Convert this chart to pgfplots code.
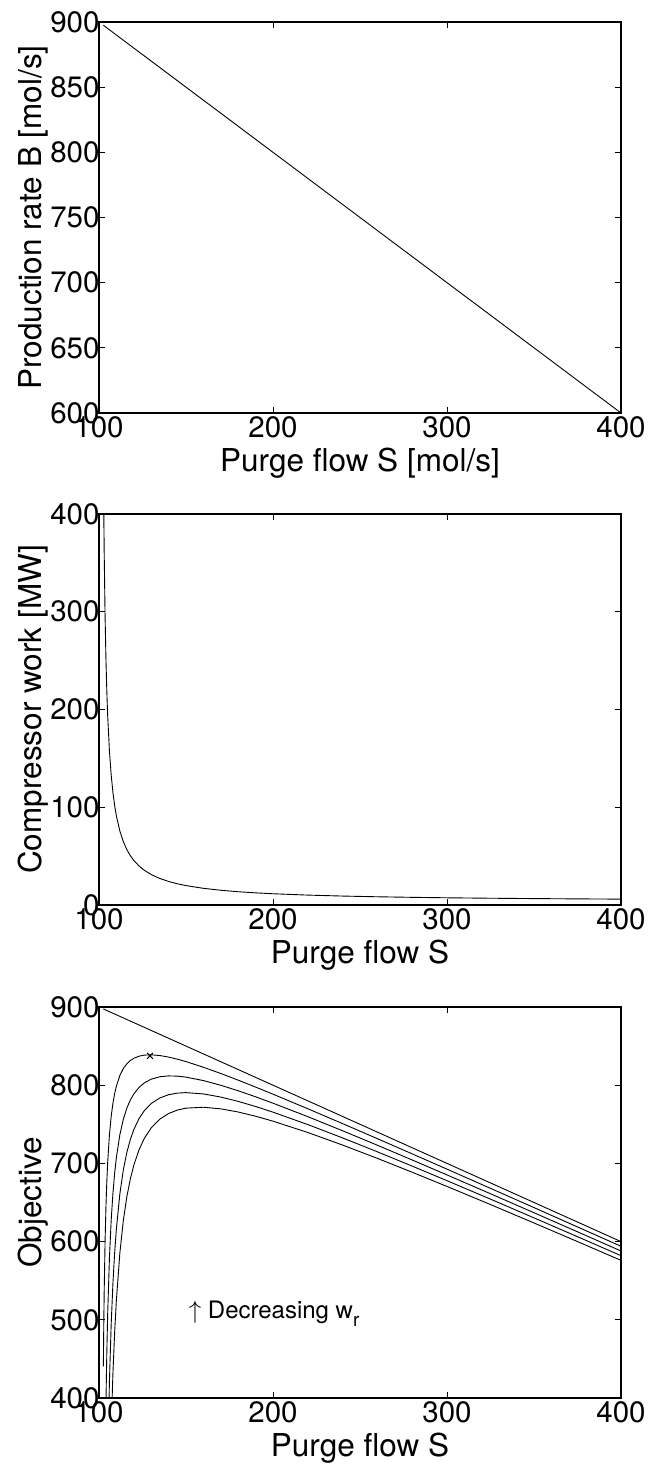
\documentclass[border=0pt]{standalone}
\usepackage{pgfplots}
\pgfplotsset{compat=1.18}
\usepackage{fontspec}
\setmainfont{TeX Gyre Heros}
\pgfplotsset{
  mpanel/.style={
    scale only axis, width=522pt, height=391pt,
    anchor=south west,
    xmin=100, xmax=400, xtick={100,200,300,400},
    tick align=inside, major tick length=6pt,
    axis line style={line width=1.1pt},
    every tick/.style={black, line width=0.9pt},
    tick label style={font=\fontsize{29.5}{29.5}\selectfont},
    /pgf/number format/assume math mode=true,
    scaled ticks=false,
    yticklabel style={xshift=4pt},
    every axis x label/.style={at={([yshift=-59pt]axis description cs:0.5,0)}, anchor=base, inner sep=0pt, font=\fontsize{31.5}{31.5}\selectfont},
    every axis y label/.style={at={([xshift=-57pt]axis description cs:0,0.5)}, rotate=90, anchor=base, inner sep=0pt, font=\fontsize{31.5}{31.5}\selectfont},
  },
  curve/.style={black, line width=0.9pt, no marks},
}
\begin{document}
\begin{tikzpicture}[x=1pt,y=1pt]
\useasboundingbox (0,0) rectangle (650,1466);
% Panel 1
\begin{axis}[mpanel, at={(99pt,1053pt)}, ymin=600, ymax=900, ytick={600,650,700,750,800,850,900},
  xlabel={Purge flow S [mol/s]}, ylabel={Production rate B [mol/s]}]
\addplot[curve] coordinates {(102.5,897.5) (400,600)};
\end{axis}
% Panel 2
\begin{axis}[mpanel, at={(99pt,561pt)}, ymin=0, ymax=400, ytick={0,100,200,300,400},
  xlabel={Purge flow S}, ylabel={Compressor work [MW]}]
\addplot[curve] coordinates {
(102.76,400) (103,358.49) (103.5,295.06) (104,250.85) (104.5,218.27) (105,193.27)
(106,157.42) (107,132.95) (108,115.19) (109,101.70) (110,91.12) (112,75.57)
(114,64.70) (116,56.67) (118,50.50) (120,45.60) (123,39.91) (126,35.56)
(130,31.15) (135,27.09) (140,24.06) (145,21.71) (150,19.84) (160,17.05)
(170,15.06) (180,13.57) (190,12.42) (200,11.50) (220,10.12) (240,9.14)
(260,8.40) (280,7.83) (300,7.37) (325,6.91) (350,6.55) (375,6.25) (400,6.00)};
\end{axis}
% Panel 3
\begin{axis}[mpanel, at={(99pt,68pt)}, ymin=400, ymax=900, ytick={400,500,600,700,800,900},
  xlabel={Purge flow S}, ylabel={Objective}]
\addplot[curve] coordinates {(102.5,897.5) (400,600)};
\addplot[curve] coordinates {
(102.5,440.34) (102.75,495.44) (103,538.51) (103.5,601.44) (104,645.15) (104.5,677.23)
(105,701.73) (106,736.58) (107,760.05) (108,776.81) (109,789.3) (110,798.88)
(112,812.43) (114,821.3) (116,827.33) (118,831.5) (120,834.4) (123,837.09)
(126,838.44) (130,838.85) (135,837.91) (140,835.94) (145,833.29) (150,830.16)
(160,822.95) (170,814.94) (180,806.43) (190,797.58) (200,788.5) (220,769.88)
(240,750.86) (260,731.6) (280,712.17) (300,692.63) (325,668.09) (350,643.45)
(375,618.75) (400,594)};
\addplot[curve] coordinates {
(102.5,-16.8) (103,180.0) (103.5,306.38) (104,394.3) (104.5,458.96) (105,508.46)
(106,579.16) (107,627.1) (108,661.62) (109,687.6) (110,707.76) (112,736.86)
(114,756.6) (116,770.66) (118,781.0) (120,788.8) (123,797.18) (126,802.88)
(130,807.7) (135,810.82) (140,811.88) (145,811.58) (150,810.32) (160,805.9)
(170,799.88) (180,792.86) (190,785.16) (200,777.0) (220,759.76) (240,741.72)
(260,723.2) (280,704.34) (300,685.26) (325,661.18) (350,636.9) (375,612.5) (400,588)};
\addplot[curve] coordinates {
(103,-178) (103.5,11.3) (104,143.45) (104.5,240.69) (105,315.19) (106,421.74)
(107,494.15) (108,546.43) (109,585.9) (110,616.64) (112,661.29) (114,691.9)
(116,713.99) (118,730.5) (120,743.2) (123,757.27) (126,767.32) (130,776.55)
(135,783.73) (140,787.82) (145,789.87) (150,790.48) (160,788.85) (170,784.82)
(180,779.29) (190,772.74) (200,765.5) (220,749.64) (240,732.58) (260,714.8)
(280,696.51) (300,677.89) (325,654.27) (350,630.35) (375,606.25) (400,582)};
\addplot[curve] coordinates {
(104,-107.4) (104.5,22.42) (105,121.92) (106,264.32) (107,361.2) (108,431.24)
(109,484.2) (110,525.52) (112,585.72) (114,627.2) (116,657.32) (118,680.0)
(120,697.6) (123,717.36) (126,731.76) (130,745.4) (135,756.64) (140,763.76)
(145,768.16) (150,770.64) (160,771.8) (170,769.76) (180,765.72) (190,760.32)
(200,754.0) (220,739.52) (240,723.44) (260,706.4) (280,688.68) (300,670.52)
(325,647.36) (350,623.8) (375,600.0) (400,576)};
\addplot[only marks, mark=x, mark size=4pt, mark options={black, line width=1pt}] coordinates {(129.3,837.5)};
\node[anchor=base west, inner sep=0pt, font=\fontsize{24}{24}\selectfont] at (axis cs:151.5,502) {$\uparrow$ Decreasing w\raisebox{-8pt}{\fontsize{19}{19}\selectfont r}};
\end{axis}
\end{tikzpicture}
\end{document}
